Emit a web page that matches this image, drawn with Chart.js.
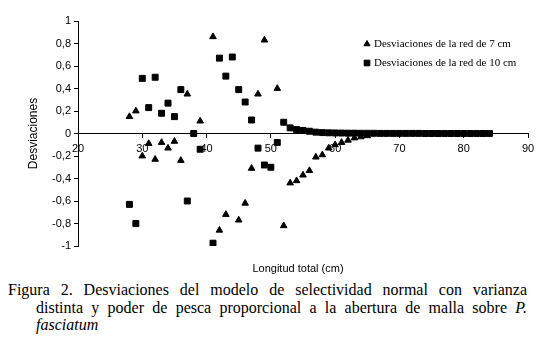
<!DOCTYPE html>
<html>
<head>
<meta charset="utf-8">
<script src="https://cdn.jsdelivr.net/npm/chart.js@4/dist/chart.umd.min.js"></script>
<style>
  body { margin: 0; background: #fff; }
  #wrap { position: relative; width: 540px; height: 352px; }
  #caption {
    position: absolute; left: 8px; top: 281px; width: 519px;
    font-family: "Liberation Serif", serif; font-size: 16px; line-height: 17.5px;
    color: #000;
  }
  #caption .ln { text-align: justify; text-align-last: justify; white-space: nowrap; }
  #caption .ind { padding-left: 28px; }
</style>
</head>
<body>
<div id="wrap">
  <canvas id="myChart" width="540" height="280"></canvas>
  <div id="caption">
    <div class="ln">Figura 2. Desviaciones del modelo de selectividad normal con varianza</div>
    <div class="ln ind">distinta y poder de pesca proporcional a la abertura de malla sobre <i>P.</i></div>
    <div class="ind"><i>fasciatum</i></div>
  </div>
</div>
<script>
// red de 7 cm
const lengths7 = [28, 29, 30, 31, 32, 33, 34, 35, 36, 37, 39, 41, 42, 43, 45, 46, 47, 48, 49, 51,
  52, 53, 54, 55, 56, 57, 58, 59, 60, 61, 62, 63, 64, 65];
const dev7 = [0.15, 0.20, -0.20, -0.09, -0.23, -0.08, -0.13, -0.07, -0.24, 0.35, 0.11, 0.86, -0.86, -0.72, -0.77, -0.62, -0.31, 0.35, 0.83, 0.40,
  -0.82, -0.44, -0.42, -0.37, -0.33, -0.21, -0.19, -0.13, -0.10, -0.08, -0.06, -0.04, -0.03, -0.02];

// red de 10 cm
const lengths10 = [28, 29, 30, 31, 32, 33, 34, 35, 36, 37, 38, 39, 41, 42, 43, 44, 45, 46, 47, 48, 49, 50,
  51, 52, 53, 54, 55, 56, 57, 58, 59, 60, 61, 62, 63, 64, 65, 66, 67, 68, 69, 70,
  71, 72, 73, 74, 75, 76, 77, 78, 79, 80, 81, 82, 83, 84];
const dev10 = [-0.63, -0.80, 0.49, 0.23, 0.50, 0.18, 0.27, 0.15, 0.39, -0.60, 0.00, -0.14, -0.975, 0.67, 0.51, 0.68, 0.39, 0.28, 0.12, -0.13, -0.28, -0.30,
  -0.08, 0.10, 0.05, 0.035, 0.027, 0.02, 0.012, 0.008, 0.006, 0.005, 0.004, 0.003, 0.003, 0.002, 0.002, 0.002, 0.001, 0.001, 0.001, 0.001,
  0.001, 0.001, 0.001, 0, 0, 0, 0, 0, 0, 0, 0, 0, 0, 0];

const seriesLabels = ['Desviaciones de la red de 7 cm', 'Desviaciones de la red de 10 cm'];

function fmtComma(v) {
  if (Math.abs(v) < 1e-9) return '0';
  if (Math.abs(Math.abs(v) - 1) < 1e-9) return v > 0 ? '1' : '-1';
  return v.toFixed(1).replace('.', ',');
}

// leyenda dentro del area y titulo del eje x
const extras = {
  id: 'extras',
  afterDraw(chart) {
    const ctx = chart.ctx;
    ctx.save();
    ctx.fillStyle = '#000';
    ctx.strokeStyle = '#000';
    const rows = [{ y: 44, style: 'triangle', r: 3.5 }, { y: 63, style: 'rect', r: 4 }];
    rows.forEach((row, i) => {
      Chart.helpers.drawPoint(ctx, { pointStyle: row.style, radius: row.r, borderWidth: 1 }, 367, row.y);
      ctx.font = '11px "Liberation Serif"';
      ctx.textAlign = 'left';
      ctx.textBaseline = 'middle';
      ctx.fillText(seriesLabels[i], 374, row.y);
    });
    ctx.font = '11px "Liberation Sans"';
    ctx.textAlign = 'center';
    ctx.fillText('Longitud total (cm)', 298, 269);
    ctx.restore();
  }
};

document.addEventListener('DOMContentLoaded', function() {
  const ctx = document.getElementById('myChart').getContext('2d');
  const tickFont = { family: 'Liberation Sans', size: 11 };

  new Chart(ctx, {
    type: 'scatter',
    data: {
      datasets: [{
        label: seriesLabels[0],
        data: lengths7.map((x, i) => ({ x: x, y: dev7[i] })),
        pointStyle: 'triangle',
        radius: 3.8,
        backgroundColor: '#000',
        borderColor: '#000',
        borderWidth: 1
      }, {
        label: seriesLabels[1],
        data: lengths10.map((x, i) => ({ x: x, y: dev10[i] })),
        pointStyle: 'rect',
        radius: 4.2,
        backgroundColor: '#000',
        borderColor: '#000',
        borderWidth: 1
      }]
    },
    options: {
      responsive: false,
      animation: false,
      devicePixelRatio: 1,
      layout: { padding: { top: 21, right: 12, left: 22, bottom: 34 } },
      plugins: {
        legend: { display: false },
        tooltip: { enabled: false }
      },
      scales: {
        x: {
          type: 'linear',
          position: { y: 0 },
          min: 20, max: 90,
          ticks: { stepSize: 10, color: '#000', font: tickFont, padding: 5 },
          grid: { drawOnChartArea: false, color: '#000', tickLength: 4 },
          border: { color: '#000' }
        },
        y: {
          min: -1, max: 1,
          afterFit: function(s) { s.width = 56; },
          ticks: { stepSize: 0.2, color: '#000', font: tickFont, padding: 3, callback: fmtComma },
          grid: { drawOnChartArea: false, color: '#000', tickLength: 4 },
          border: { color: '#000' },
          title: { display: true, text: 'Desviaciones', color: '#000', font: { family: 'Liberation Sans', size: 12 } }
        }
      }
    },
    plugins: [extras]
  });
});
</script>
</body>
</html>
